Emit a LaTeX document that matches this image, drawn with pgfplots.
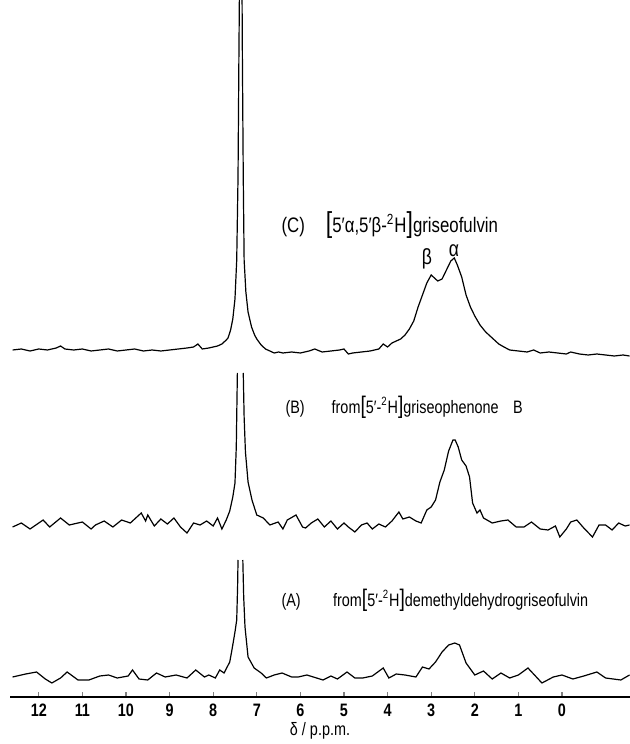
\documentclass[border=0pt]{standalone}
\usepackage{pgfplots}
\pgfplotsset{compat=1.18}
\usepackage{fontspec}
\setmainfont{Liberation Sans}[FakeStretch=0.8]

\begin{document}
\begin{tikzpicture}
\useasboundingbox (0,0) rectangle (315pt,372pt);
\begin{axis}[
  at={(5pt,23.5pt)}, anchor=south west,
  scale only axis, width=310pt, height=348.5pt,
  xmin=-1.56, xmax=12.66, ymin=0, ymax=697,
  x dir=reverse,
  axis x line=bottom, axis y line=none,
  axis line style={-, line width=0.6pt},
  xtick={0,1,...,12},
  tick align=inside, major tick length=2.5pt,
  tick style={line width=0.6pt},
  /pgf/number format/assume math mode=true,
  ticklabel style={font=\fontsize{9}{10}\selectfont\bfseries},
  xlabel={δ / p.p.m.},
  xlabel style={font=\fontsize{9}{10}\selectfont, yshift=4pt},
  unbounded coords=jump,
]
% (C) griseofulvin
\addplot[black, line width=0.6pt, mark=none] coordinates {
(12.6,347) (12.4,348) (12.2,346) (12.0,348) (11.8,347) (11.6,349) (11.5,351) (11.4,348)
(11.2,347) (11.0,348) (10.8,346) (10.6,347) (10.4,348) (10.2,346) (10.0,347) (9.8,348)
(9.6,346) (9.4,347) (9.2,346) (9.0,347) (8.8,348) (8.6,349) (8.45,350) (8.35,353)
(8.25,348) (8.1,349) (8.0,350) (7.9,351) (7.8,353) (7.7,357) (7.66,359) (7.6,367)
(7.55,378) (7.5,398) (7.46,437) (7.43,520) (7.41,640) (7.38,800) (7.35,800) (7.33,640)
(7.31,520) (7.29,437) (7.25,405) (7.2,385) (7.12,370) (7.05,362) (7.0,358) (6.9,352)
(6.8,348) (6.7,346) (6.6,344) (6.5,345) (6.4,344) (6.2,345) (6.0,344) (5.8,346)
(5.67,348) (5.5,345) (5.3,346) (5.1,347) (5.0,348) (4.9,343) (4.8,344) (4.6,345)
(4.4,346) (4.2,348) (4.1,353) (4.0,350) (3.9,354) (3.8,356) (3.7,358) (3.6,362)
(3.5,368) (3.4,376) (3.3,390) (3.2,402) (3.1,414) (3.0,422) (2.95,420) (2.85,416)
(2.75,418) (2.65,427) (2.55,436) (2.47,439) (2.4,432) (2.3,420) (2.2,402) (2.1,390)
(2.0,381) (1.88,372) (1.75,365) (1.6,359) (1.45,353) (1.33,350) (1.2,347) (1.0,346)
(0.8,345) (0.65,347) (0.5,344) (0.3,345) (0.1,344) (-0.1,343) (-0.2,345) (-0.4,343)
(-0.6,342) (-0.8,343) (-1.0,342) (-1.2,341) (-1.4,342) (-1.55,341)
};
% (B) from griseophenone B
\addplot[black, line width=0.6pt, mark=none] coordinates {
(12.6,170) (12.4,174) (12.2,168) (11.9,177) (11.75,170) (11.5,179) (11.3,172) (11.0,175)
(10.8,168) (10.7,172) (10.5,176) (10.3,170) (10.1,177) (9.9,174) (9.75,180) (9.65,184)
(9.55,176) (9.5,182) (9.35,171) (9.2,178) (9.05,173) (8.9,179) (8.75,170) (8.6,164)
(8.45,174) (8.3,172) (8.15,176) (8.0,171) (7.9,179) (7.8,168) (7.7,177) (7.62,186)
(7.55,200) (7.5,214) (7.47,250) (7.46,280) (7.445,324) (7.37,nan) (7.31,324) (7.29,280)
(7.26,245) (7.2,215) (7.11,197) (7.0,182) (6.85,179) (6.7,172) (6.51,175) (6.4,168)
(6.3,177) (6.1,182) (5.95,170) (5.88,169) (5.75,174) (5.6,178) (5.45,170) (5.3,176)
(5.15,168) (5.0,174) (4.9,170) (4.75,165) (4.6,172) (4.47,174) (4.35,168) (4.2,173)
(4.05,170) (3.9,176) (3.74,185) (3.65,178) (3.5,180) (3.35,176) (3.23,174) (3.1,187)
(3.0,190) (2.9,197) (2.8,215) (2.7,227) (2.6,246) (2.5,257) (2.45,257) (2.38,250)
(2.3,237) (2.2,231) (2.12,220) (2.05,194) (1.95,184) (1.88,187) (1.8,179) (1.6,174)
(1.4,176) (1.24,177) (1.05,170) (0.87,170) (0.7,175) (0.5,168) (0.32,167) (0.15,171)
(0.05,160) (-0.1,168) (-0.2,175) (-0.34,177) (-0.5,169) (-0.7,160) (-0.85,172) (-1.0,172)
(-1.15,167) (-1.3,174) (-1.45,171) (-1.55,172)
};
% (A) from demethyldehydrogriseofulvin
\addplot[black, line width=0.6pt, mark=none] coordinates {
(12.6,20) (12.3,23) (12.05,25) (11.85,18) (11.7,14) (11.5,19) (11.35,25) (11.1,17)
(10.85,17) (10.6,21) (10.4,22) (10.2,19) (9.95,21) (9.85,27) (9.7,18) (9.5,17)
(9.3,24) (9.1,20) (8.85,22) (8.6,19) (8.4,27) (8.2,20) (8.1,22) (7.95,19)
(7.85,27) (7.75,24) (7.62,35) (7.57,47) (7.5,65) (7.46,77) (7.44,110) (7.43,137)
(7.37,nan) (7.32,137) (7.3,100) (7.27,70) (7.2,40) (7.06,29) (6.9,24) (6.78,19)
(6.6,22) (6.42,24) (6.2,20) (6.05,20) (5.85,22) (5.48,17) (5.3,21) (5.15,18)
(4.93,25) (4.75,19) (4.57,19) (4.35,21) (4.1,29) (3.97,19) (3.8,23) (3.6,22)
(3.35,20) (3.2,30) (3.05,28) (2.9,35) (2.75,45) (2.6,52) (2.46,54) (2.35,52)
(2.2,34) (2.0,22) (1.8,26) (1.6,18) (1.4,24) (1.2,19) (1.0,22) (0.78,29)
(0.46,14) (0.2,20) (0.0,22) (-0.25,18) (-0.5,21) (-0.8,25) (-1.0,19) (-1.35,17)
(-1.55,22)
};
\node[font=\fontsize{10.5}{12}\selectfont, anchor=west, inner sep=0pt] at (axis cs:6.44,472)
  {(C)\hspace{1em}{\Large[}5′α,5′β-\textsuperscript{2}H{\Large]}griseofulvin};
\node[font=\fontsize{9}{10}\selectfont, anchor=west, inner sep=0pt] at (axis cs:6.35,290)
  {(B)\hspace{1.5em}from{\large[}5′-\textsuperscript{2}H{\large]}griseophenone\hspace{0.8em}B};
\node[font=\fontsize{9}{10}\selectfont, anchor=west, inner sep=0pt] at (axis cs:6.44,97)
  {(A)\hspace{1.8em}from{\large[}5′-\textsuperscript{2}H{\large]}demethyldehydrogriseofulvin};
\node[font=\fontsize{11}{12}\selectfont, anchor=center] at (axis cs:3.1,438) {β};
\node[font=\fontsize{11}{12}\selectfont, anchor=center] at (axis cs:2.48,446) {α};
\end{axis}
\end{tikzpicture}
\end{document}
